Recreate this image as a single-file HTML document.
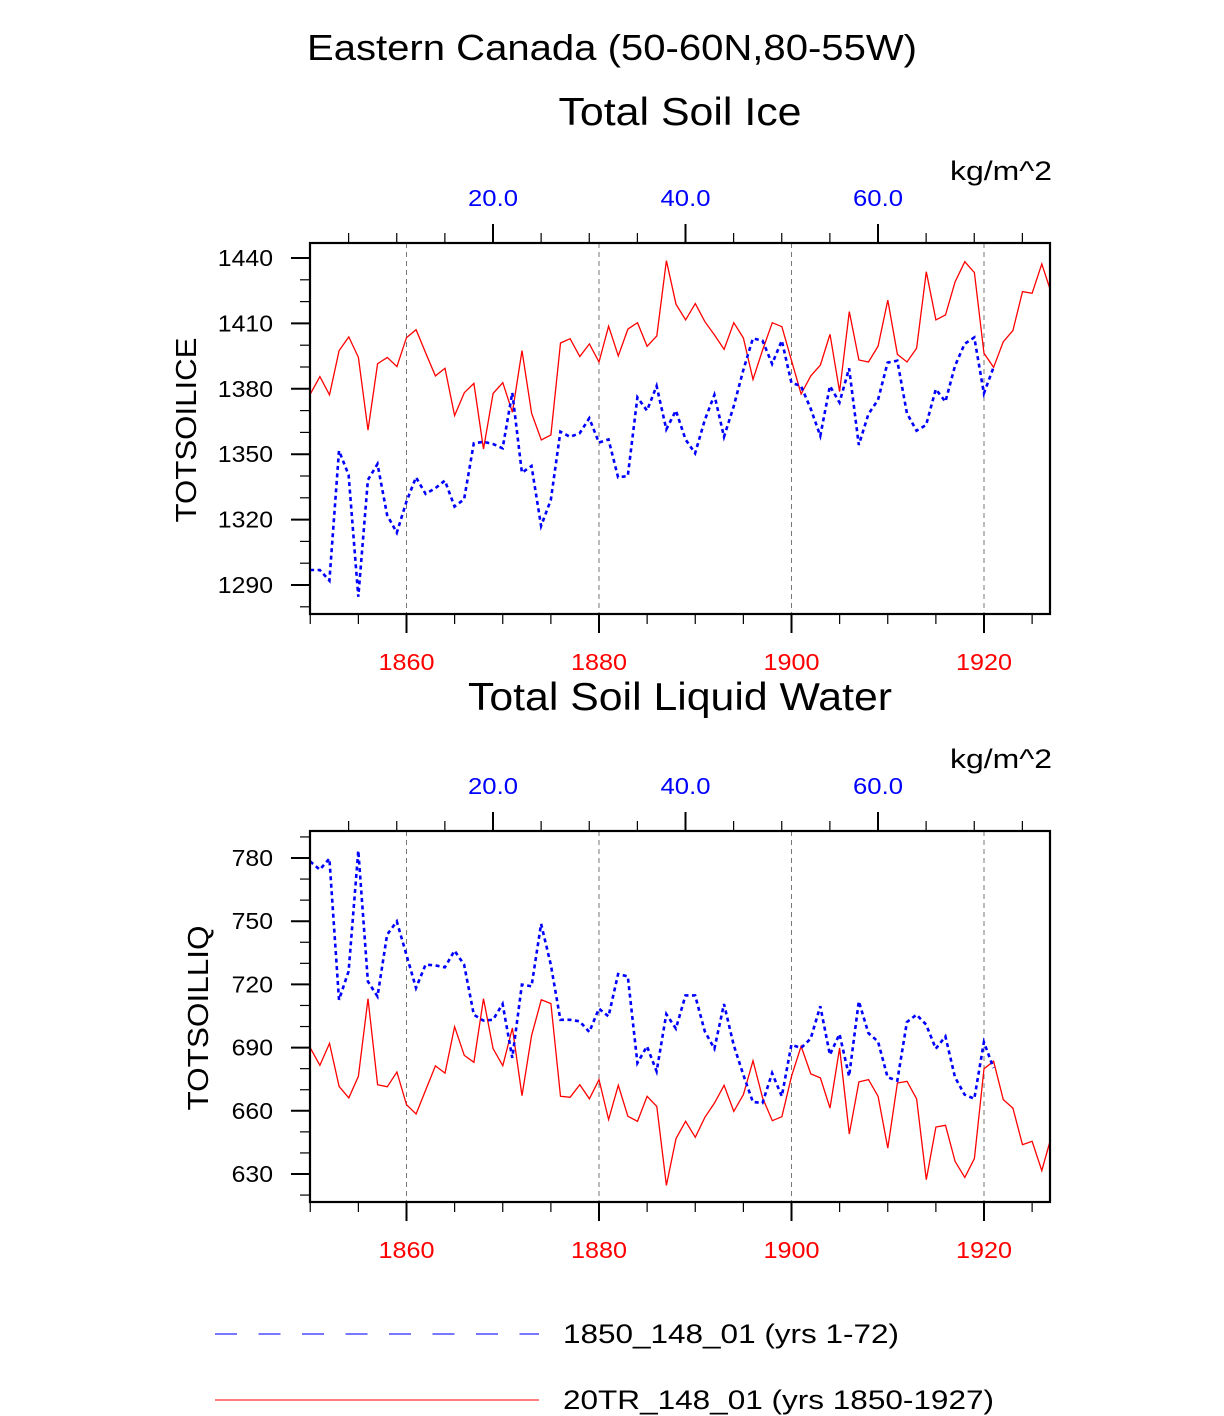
<!DOCTYPE html>
<html><head><meta charset="utf-8"><style>
html,body{margin:0;padding:0;background:#fff;}
svg{display:block;font-family:"Liberation Sans",sans-serif;}
</style></head><body>
<svg id="chart" width="1224" height="1416" viewBox="0 0 1224 1416">
<text x="612" y="60" font-size="36" text-anchor="middle" textLength="610" lengthAdjust="spacingAndGlyphs">Eastern Canada (50-60N,80-55W)</text>
<g id="p1"></g>
<g id="p2"></g>
<g>
<line x1="215" y1="1334" x2="539" y2="1334" stroke="#7777ff" stroke-width="2" stroke-dasharray="22,21.5"/>
<text x="563" y="1343" font-size="27" textLength="336" lengthAdjust="spacingAndGlyphs">1850_148_01 (yrs 1-72)</text>
<line x1="215" y1="1400" x2="539" y2="1400" stroke="#ff5555" stroke-width="1.5"/>
<text x="563" y="1409" font-size="27" textLength="431" lengthAdjust="spacingAndGlyphs">20TR_148_01 (yrs 1850-1927)</text>
</g>
</svg>
<script>
const years = [];
for (let y = 1850; y <= 1927; y++) years.push(y);
const ctrlIdx = [];
for (let k = 1; k <= 72; k++) ctrlIdx.push(k);
const iceRed = [1377.6,1385.6,1377.2,1397.5,1403.8,1394.4,1361.0,1391.5,1394.4,1390.2,1403.5,1407.1,1396.3,1385.9,1389.4,1367.7,1378.2,1382.5,1352.4,1377.9,1382.8,1369.2,1397.5,1368.8,1356.5,1358.8,1401.0,1403.0,1394.8,1400.6,1392.3,1408.7,1395.1,1407.4,1410.3,1399.5,1404.2,1438.8,1418.8,1411.6,1419.1,1410.8,1404.7,1398.1,1410.3,1403.3,1384.3,1397.8,1410.3,1408.5,1393.0,1377.6,1385.9,1390.9,1405.0,1378.7,1415.4,1393.2,1392.3,1399.6,1420.7,1395.8,1392.3,1398.6,1433.7,1411.6,1413.9,1429.1,1438.3,1433.3,1396.3,1389.8,1401.6,1406.7,1424.6,1423.8,1437.3,1423.8];
const iceBlue = [1296.9,1296.9,1292.0,1351.6,1340.5,1284.6,1338.2,1345.5,1322.1,1314.0,1328.2,1339.4,1331.8,1334.4,1337.9,1326.0,1329.3,1355.0,1355.7,1354.7,1352.7,1378.2,1341.5,1344.6,1317.1,1329.0,1360.3,1358.0,1359.6,1366.5,1355.3,1356.8,1339.4,1340.0,1376.1,1370.0,1381.3,1361.4,1370.0,1356.8,1350.4,1365.7,1377.2,1358.0,1371.8,1388.6,1403.1,1402.1,1391.4,1402.1,1382.8,1381.3,1371.0,1358.4,1381.3,1373.7,1389.4,1354.2,1368.4,1374.9,1392.0,1392.9,1368.8,1360.8,1363.4,1379.8,1374.1,1390.5,1400.6,1403.6,1377.9,1389.8];
const liqRed = [689.8,681.6,692.0,671.6,666.1,676.4,713.2,672.4,671.4,678.4,662.9,658.5,670.0,681.3,677.9,699.9,686.3,683.0,713.2,689.5,681.4,699.3,667.2,695.8,712.7,710.9,666.9,666.4,672.4,665.7,674.8,655.8,672.1,657.4,655.0,666.9,662.1,624.6,646.8,655.0,647.4,656.9,663.7,672.1,659.7,667.7,683.8,666.1,655.3,657.2,676.4,690.6,677.5,675.6,661.3,689.8,649.0,673.7,674.8,666.9,642.3,673.2,674.0,665.7,627.3,652.3,653.1,636.0,628.4,637.3,680.0,683.5,665.3,661.3,643.9,645.5,631.6,647.9];
const liqBlue = [778.4,774.5,779.7,712.7,726.2,783.5,721.4,714.3,743.6,749.9,734.1,718.3,729.4,729.0,728.1,736.0,729.4,705.6,702.8,703.2,710.7,685.1,719.9,719.1,748.7,729.4,703.2,703.2,702.5,697.4,708.5,704.8,724.9,723.8,682.7,690.6,678.7,705.9,699.0,714.8,714.8,697.7,689.5,710.7,691.4,677.1,664.2,663.7,677.9,666.9,691.4,689.8,694.2,709.6,686.6,696.4,676.4,712.0,696.9,692.9,675.9,674.3,702.1,705.6,700.9,689.5,695.3,675.9,667.7,665.7,692.6,680.3];
const bottomTicks = [1860,1880,1900,1920];
const topTicks = [20,40,60];
const iceTicks = [1290,1320,1350,1380,1410,1440];
const liqTicks = [630,660,690,720,750,780];

const NS = 'http://www.w3.org/2000/svg';
function mk(parent, tag, attrs) {
  const e = document.createElementNS(NS, tag);
  for (const k in attrs) e.setAttribute(k, attrs[k]);
  parent.appendChild(e);
  return e;
}
const L = 310, R = 1050;
const xYear = y => 310.25 + (y - 1850) * 9.625;
const xIdx = k => 300.5 + k * 9.625;

function panel(g, o) {
  const T = o.top, B = o.top + 371;
  const yS = v => o.y0 + (o.v0 - v) * o.pxPer;
  const t = mk(g, 'text', {x: 680, y: o.titleY, 'font-size': 39, 'text-anchor': 'middle', textLength: o.titleLen, lengthAdjust: 'spacingAndGlyphs'});
  t.textContent = o.title;
  
  
  const u = mk(g, 'text', {x: 1052, y: T - 63, 'font-size': 27, 'text-anchor': 'end', textLength: 102, lengthAdjust: 'spacingAndGlyphs'});
  u.textContent = 'kg/m^2';
  
  
  const yt = mk(g, 'text', {x: 0, y: 0, 'font-size': 29, 'text-anchor': 'middle', textLength: 185, lengthAdjust: 'spacingAndGlyphs', transform: 'translate(' + o.ytX + ',' + (T + 187) + ') rotate(-90)'});
  yt.textContent = o.yTitle;
  
  
  bottomTicks.forEach(y => {
    const l = mk(g, 'line', {x1: xYear(y), x2: xYear(y), y1: T, y2: B, stroke: '#777', 'stroke-width': 1, 'stroke-dasharray': '5,4'});
    
    
  });
  for (let y = 1850; y <= 1927; y += 5) {
    const maj = bottomTicks.includes(y);
    mk(g, 'line', {x1: xYear(y), x2: xYear(y), y1: B, y2: B + (maj ? 19 : 10), stroke: '#000', 'stroke-width': maj ? 2 : 1.2});
  }
  bottomTicks.forEach(y => {
    const tx = mk(g, 'text', {x: xYear(y), y: B + 56, 'font-size': 23, fill: '#ff0000', 'text-anchor': 'middle', textLength: 56, lengthAdjust: 'spacingAndGlyphs'});
    tx.textContent = y;
    
    
  });
  for (let k = 5; k <= 75; k += 5) {
    const maj = topTicks.includes(k);
    mk(g, 'line', {x1: xIdx(k), x2: xIdx(k), y1: T, y2: T - (maj ? 19 : 10), stroke: '#000', 'stroke-width': maj ? 2 : 1.2});
  }
  topTicks.forEach(k => {
    const tx = mk(g, 'text', {x: xIdx(k), y: T - 37, 'font-size': 23, fill: '#0000ff', 'text-anchor': 'middle', textLength: 50, lengthAdjust: 'spacingAndGlyphs'});
    tx.textContent = k.toFixed(1);
    
    
  });
  for (let v = o.minTick; v <= o.maxTick; v += 10) {
    const y = yS(v);
    if (y < T - 0.5 || y > B + 0.5) continue;
    const maj = o.ticks.includes(v);
    mk(g, 'line', {x1: L, x2: L - (maj ? 19 : 10), y1: y, y2: y, stroke: '#000', 'stroke-width': maj ? 2 : 1.2});
  }
  o.ticks.forEach(v => {
    const s = String(v);
    const tx = mk(g, 'text', {x: 273, y: yS(v) + 8, 'font-size': 23, 'text-anchor': 'end', textLength: s.length * 13.8, lengthAdjust: 'spacingAndGlyphs'});
    tx.textContent = s;
    
    
  });
  const clipId = 'c' + T;
  const cp = mk(g, 'clipPath', {id: clipId});
  mk(cp, 'rect', {x: L, y: T, width: R - L, height: B - T});
  const redPts = o.red.map((v, i) => xYear(years[i]).toFixed(1) + ',' + yS(v).toFixed(1)).join(' ');
  const rl = mk(g, 'polyline', {points: redPts, fill: 'none', stroke: '#ff0000', 'stroke-width': 1.3, 'clip-path': 'url(#' + clipId + ')'});
  
  
  const bluePts = o.blue.map((v, i) => xIdx(ctrlIdx[i]).toFixed(1) + ',' + yS(v).toFixed(1)).join(' ');
  const bl = mk(g, 'polyline', {points: bluePts, fill: 'none', stroke: '#0000ff', 'stroke-width': 2.6, 'stroke-dasharray': '4,3.5', 'clip-path': 'url(#' + clipId + ')'});
  
  
  const fr = mk(g, 'rect', {x: L, y: T, width: R - L, height: B - T, fill: 'none', stroke: '#000', 'stroke-width': 2.2});
  
  
}
panel(document.getElementById('p1'), {top: 243, title: 'Total Soil Ice', titleY: 125, titleLen: 243, yTitle: 'TOTSOILICE', ytX: 196,
  y0: 258, v0: 1440, pxPer: 65.4 / 30, ticks: iceTicks, minTick: 1270, maxTick: 1450, red: iceRed, blue: iceBlue});
panel(document.getElementById('p2'), {top: 831, title: 'Total Soil Liquid Water', titleY: 710, titleLen: 424, yTitle: 'TOTSOILLIQ', ytX: 208,
  y0: 858, v0: 780, pxPer: 63.2 / 30, ticks: liqTicks, minTick: 610, maxTick: 800, red: liqRed, blue: liqBlue});
</script>
</body></html>
